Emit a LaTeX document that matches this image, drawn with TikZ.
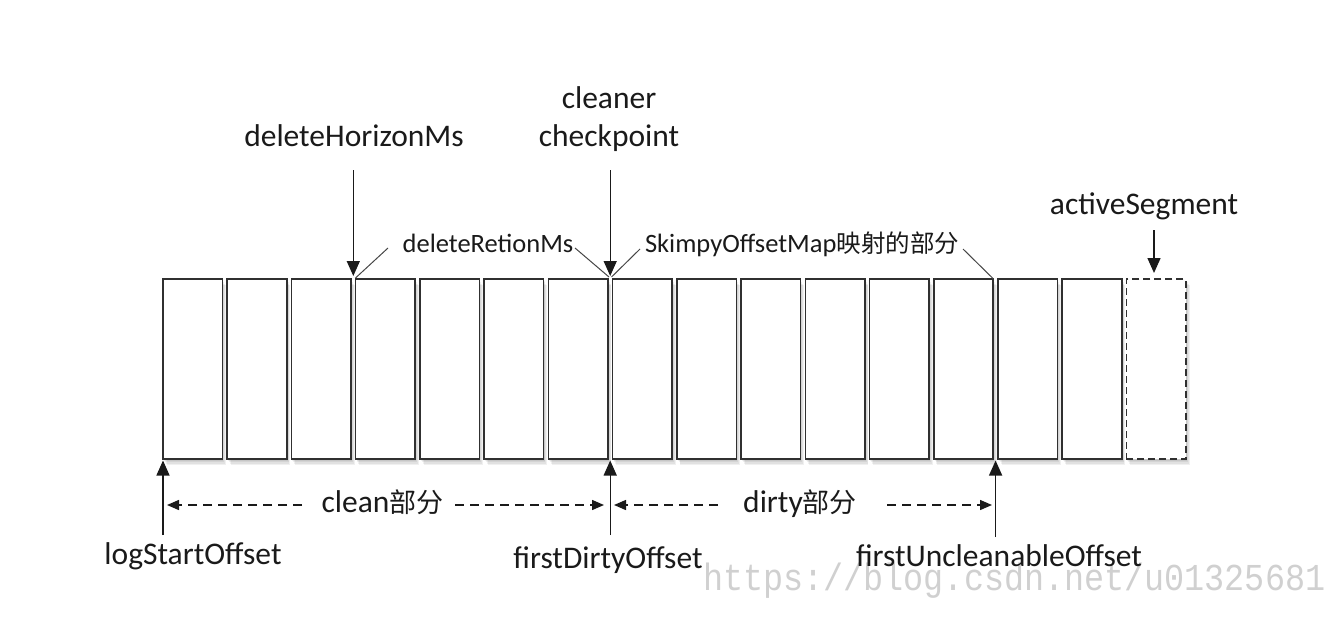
\documentclass[tikz,border=0pt]{standalone}
\usepackage{fontspec}
\setmainfont{Carlito}
\newfontfamily\cjk{Noto Sans CJK SC}
\newfontfamily\wmfont{Liberation Mono}[FakeStretch=0.88]
\usetikzlibrary{arrows.meta}
\definecolor{ink}{RGB}{26,26,26}
\definecolor{boxc}{RGB}{48,48,48}
\definecolor{leadc}{RGB}{70,70,70}
\definecolor{wmc}{RGB}{208,208,208}
\newcommand\bigf{\fontsize{31.5}{38}\selectfont}
\newcommand\smallf{\fontsize{26.5}{32}\selectfont}
\newcommand\zhbig[1]{{\fontsize{27}{30}\selectfont\cjk #1}}
\newcommand\zhsmall[1]{{\fontsize{24.5}{28}\selectfont\cjk #1}}
\begin{document}
\begin{tikzpicture}[x=1pt,y=-1pt,
  seg/.style={draw=boxc, line width=1.6pt, fill=white, minimum width=59.5pt,
    minimum height=180pt, inner sep=0pt, outer sep=0pt},
  dashedseg/.style={seg, dash pattern=on 7pt off 4pt},
  lbl/.style={text=ink, inner sep=0pt, font=\bigf},
  slbl/.style={text=ink, inner sep=0pt, font=\smallf},
  varrow/.style={draw=ink, line width=1.4pt, -{Triangle[length=15pt,width=13pt]}},
  harrow/.style={draw=ink, line width=1.4pt, dash pattern=on 9pt off 6pt,
    -{Triangle[length=12pt,width=10pt]}},
  leader/.style={draw=leadc, line width=1pt}]
\useasboundingbox (0,0) rectangle (1324,642);
\clip (0,0) rectangle (1324,642);
\fill[white] (0,0) rectangle (1324,642);

% watermark
\node[anchor=base west, inner sep=0pt, text=wmc, font=\wmfont\fontsize{38}{40}\selectfont]
  (wm) at (703,590) {https://blog.csdn.net/u013256816};

% shadows
\foreach \i in {1,...,16}{
  \foreach \j in {1,...,4}{
    \fill[black, opacity=0.06] ({163+(\i-1)*64.23+\j*0.9}, {279+\j*1.6}) rectangle +(59.5,180);
  }
}
% segments
\foreach \i in {1,...,15}{
  \node[seg] (b\i) at ({192.75+(\i-1)*64.23}, 369) {};
}
\node[dashedseg] (b16) at ({192.75+15*64.23}, 369) {};

% top labels
\node[lbl, anchor=base] (hor) at (354,146) {deleteHorizonMs};
\node[lbl, anchor=base] (ckp1) at (609,108) {cleaner};
\node[lbl, anchor=base] (ckp2) at (609,146) {checkpoint};
\node[lbl, anchor=base] (act) at (1144,214) {activeSegment};
\node[slbl, anchor=base] (ret) at (488,252) {deleteRetionMs};
\node[slbl, anchor=base] (skm) at (802,252) {SkimpyOffsetMap\zhsmall{映射的部分}};

% top arrows
\coordinate (h0) at (353.3,170);
\coordinate (h1) at (353.3,276);
\draw[varrow] (h0) -- (h1);
\coordinate (c0) at (610.2,170);
\coordinate (c1) at (610.2,276);
\draw[varrow] (c0) -- (c1);
\coordinate (a0) at (1154,230);
\coordinate (a1) at (1154,273);
\draw[varrow] (a0) -- (a1);

% leader lines
\coordinate (l1a) at (355.5,278); \coordinate (l1b) at (388,248);
\draw[leader] (l1a) -- (l1b);
\coordinate (l2a) at (575,248); \coordinate (l2b) at (609,277);
\draw[leader] (l2a) -- (l2b);
\coordinate (l3a) at (611.5,277); \coordinate (l3b) at (640,249);
\draw[leader] (l3a) -- (l3b);
\coordinate (l4a) at (963,249); \coordinate (l4b) at (993.5,279);
\draw[leader] (l4a) -- (l4b);

% bottom arrows
\coordinate (s0) at (163,535); \coordinate (s1) at (163,460.5);
\draw[varrow] (s0) -- (s1);
\coordinate (d0) at (610.2,535); \coordinate (d1) at (610.2,460.5);
\draw[varrow] (d0) -- (d1);
\coordinate (u0) at (995.6,537); \coordinate (u1) at (995.6,460.5);
\draw[varrow] (u0) -- (u1);

% bottom labels
\node[lbl, anchor=base] (lso) at (193,564) {logStartOffset};
\node[lbl, anchor=base] (fdo) at (608,568) {firstDirtyOffset};
\node[lbl, anchor=base] (fuo) at (999,566) {firstUncleanableOffset};

% range labels
\node[lbl, anchor=base, inner xsep=0pt] (cln) at (382.5,512) {clean\zhbig{部分}};
\node[lbl, anchor=base] (drt) at (800,512) {dirty\zhbig{部分}};
\coordinate (cL) at (167,505); \coordinate (cR) at (604,505);
\coordinate (cLs) at (302,505); \coordinate (cRs) at (455,505);
\draw[harrow] (cLs) -- (cL);
\draw[harrow] (cRs) -- (cR);
\coordinate (dL) at (614,505); \coordinate (dR) at (992,505);
\coordinate (dLs) at (718,505); \coordinate (dRs) at (887,505);
\draw[harrow] (dLs) -- (dL);
\draw[harrow] (dRs) -- (dR);
\end{tikzpicture}
\end{document}
